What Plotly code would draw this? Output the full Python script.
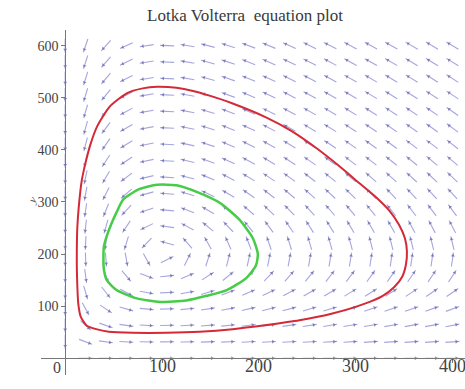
import math
import plotly.graph_objects as go

# ---- data ----
title_text = "Lotka Volterra  equation plot"

# Lotka-Volterra model: dx/dt = a*x - b*x*y ; dy/dt = -c*y + d*x*y
a_prey, b_pred, c_pred, d_prey = 0.2, 0.001, 0.1, 0.001

# direction-field grid (20 x 20)
x_grid = [0, 21.1, 42.1, 63.2, 84.2, 105.3, 126.3, 147.4, 168.4, 189.5,
          210.5, 231.6, 252.6, 273.7, 294.7, 315.8, 336.8, 357.9, 378.9, 400]
y_grid = [0, 31.6, 63.2, 94.7, 126.3, 157.9, 189.5, 221.1, 252.6, 284.2,
          315.8, 347.4, 378.9, 410.5, 442.1, 473.7, 505.3, 536.8, 568.4, 600]

# outer (red) orbit
red_x = [12, 12.5, 14, 17, 21, 26, 33, 46, 64, 80, 95, 115, 132, 149, 173, 208,
         234, 259, 283, 304, 320, 335, 345, 351, 353, 352, 348, 340, 328, 311,
         276, 242, 208, 173, 139, 105, 70, 45, 32, 22, 16, 13.5, 12.5, 12, 12]
red_y = [208, 250, 290, 340, 375, 410, 445, 483, 509, 518, 521, 519, 513, 504, 489, 462,
         436, 404, 369, 336, 311, 283, 256, 230, 205, 180, 156, 137, 120, 106,
         86, 73, 64, 56, 51, 49, 49, 51, 56, 63, 80, 105, 140, 175, 208]

# inner (green) orbit
green_x = [39.5, 40, 43, 47, 53, 60, 77, 95, 115, 139, 160, 180, 194, 199, 197,
           187, 167, 146, 125, 98, 74, 53, 43, 40, 39.5]
green_y = [190, 215, 235, 255, 280, 305, 325, 333, 332, 317, 298, 266, 230, 200, 178,
           154, 131, 120, 111, 108, 115, 131, 150, 170, 190]

x_ticks = [100, 200, 300, 400]
x_tick_labels = ["100", "200", "300", "400"]
y_ticks = [100, 200, 300, 400, 500, 600]

# ---- layout geometry ----
W, H = 465, 389
ML, MR, MT, MB = 41, 0, 30, 14
x_range = [-25, 413]
y_range = [-32, 630]
ppx = (W - ML - MR) / (x_range[1] - x_range[0])
ppy = (H - MT - MB) / (y_range[1] - y_range[0])
half_len = 7.0  # px


def y_paper(v):
    return (v - y_range[0]) / (y_range[1] - y_range[0])


def x_paper(v):
    return (v - x_range[0]) / (x_range[1] - x_range[0])


shaft_x, shaft_y, head_x, head_y, head_ang = [], [], [], [], []
for xv in x_grid:
    for yv in y_grid:
        dx = a_prey * xv - b_pred * xv * yv
        dy = -c_pred * yv + d_prey * xv * yv
        ux, uy = dx * ppx, dy * ppy
        n = math.hypot(ux, uy)
        if n == 0:
            continue
        ux, uy = ux / n, uy / n
        shaft_x += [xv - ux * half_len / ppx, xv + ux * half_len / ppx, None]
        shaft_y += [yv - uy * half_len / ppy, yv + uy * half_len / ppy, None]
        head_x.append(xv + ux * (half_len - 3) / ppx)
        head_y.append(yv + uy * (half_len - 3) / ppy)
        head_ang.append(math.degrees(math.atan2(ux, uy)))

fig = go.Figure()
fig.add_trace(go.Scatter(x=shaft_x, y=shaft_y, mode="lines",
                         line=dict(color="rgba(135,135,212,0.75)", width=1.1),
                         hoverinfo="skip", showlegend=False, cliponaxis=False))
fig.add_trace(go.Scatter(x=head_x, y=head_y, mode="markers",
                         marker=dict(symbol="triangle-up", size=3.5, angle=head_ang,
                                     color="rgba(95,95,165,0.7)", line=dict(width=0)),
                         hoverinfo="skip", showlegend=False, cliponaxis=False))
fig.add_trace(go.Scatter(x=red_x, y=red_y, mode="lines",
                         line=dict(color="#d42a38", width=2, shape="spline", smoothing=0.6),
                         showlegend=False))
fig.add_trace(go.Scatter(x=green_x, y=green_y, mode="lines",
                         line=dict(color="#46cc46", width=2.5, shape="spline", smoothing=0.6),
                         showlegend=False))

axis_common = dict(showgrid=False, zeroline=False, showline=True, linecolor="#777",
                   linewidth=1, ticks="outside", ticklen=4, tickcolor="#777",
                   anchor="free")

annotations = [
    dict(text=lab, x=v, y=y_paper(-38), xref="x", yref="paper", showarrow=False,
         font=dict(family="Liberation Serif", size=18, color="#444"))
    for v, lab in zip(x_ticks, x_tick_labels)
]
annotations += [
    dict(text="0", x=-8, y=y_paper(-38), xref="x", yref="paper", showarrow=False,
         font=dict(family="Liberation Serif", size=16, color="#444")),
    dict(text="<i>y</i>", x=x_paper(-44), y=y_paper(304), xref="paper", yref="paper",
         showarrow=False, textangle=-60,
         font=dict(family="Liberation Serif", size=11, color="#555")),
]

fig.update_layout(
    width=W, height=H,
    margin=dict(l=ML, r=MR, t=MT, b=MB),
    paper_bgcolor="white", plot_bgcolor="white",
    title=dict(text=title_text, x=245 / W, xanchor="center", y=1 - 15 / H,
               yanchor="middle", yref="container",
               font=dict(family="Liberation Serif", size=17, color="#3a3a3a")),
    xaxis=dict(range=x_range, tickvals=x_ticks, showticklabels=False,
               position=y_paper(0), **axis_common),
    yaxis=dict(range=y_range, tickvals=y_ticks, position=x_paper(0),
               tickfont=dict(family="Liberation Serif", size=14, color="#444"),
               **axis_common),
    annotations=annotations,
)

fig.write_html("out.html", config={"displayModeBar": False},
               post_script="document.body.style.margin='0';")
